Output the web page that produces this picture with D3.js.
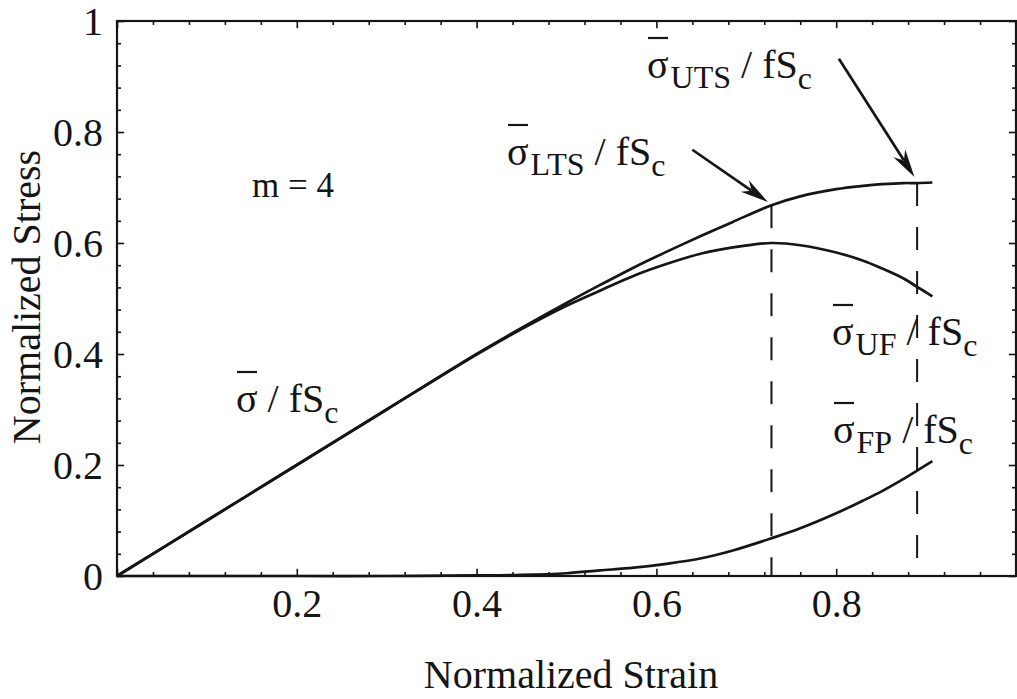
<!DOCTYPE html>
<html><head><meta charset="utf-8">
<script src="https://cdn.jsdelivr.net/npm/d3@7"></script>
<style>
body{margin:0;background:#fff}
svg{display:block}
text{font-family:"Liberation Serif","Times New Roman",serif;fill:#151515;white-space:pre}
</style>
</head><body>
<svg id="c" width="1017" height="699"></svg>
<script>
// ---- data ----
const strain      = [0, 0.1, 0.2, 0.3, 0.4, 0.45, 0.5, 0.537, 0.575, 0.611, 0.65, 0.685, 0.728, 0.76, 0.8, 0.83, 0.851, 0.875, 0.89, 0.907];
const sigmaTotal  = [0, 0.1, 0.2, 0.3, 0.4, 0.447, 0.492, 0.524, 0.556, 0.584, 0.613, 0.638, 0.668, 0.684, 0.697, 0.703, 0.706, 0.708, 0.708, 0.709];
const sigmaUF     = [0, 0.1, 0.2, 0.3, 0.399, 0.445, 0.487, 0.514, 0.541, 0.562, 0.581, 0.592, 0.6, 0.596, 0.583, 0.568, 0.554, 0.536, 0.521, 0.504];
const sigmaFP     = [0, 0, 0, 0, 0.001, 0.002, 0.005, 0.01, 0.015, 0.022, 0.032, 0.046, 0.068, 0.086, 0.113, 0.136, 0.153, 0.175, 0.19, 0.207];
const markStrain  = [0.728, 0.89];      // LTS, UTS strains (dashed lines)
const markStress  = [0.668, 0.708];
const xTickLabels = ["0.2", "0.4", "0.6", "0.8"];
const xTickValues = [0.2, 0.4, 0.6, 0.8];
const yTickLabels = ["0", "0.2", "0.4", "0.6", "0.8", "1"];
const yTickValues = [0, 0.2, 0.4, 0.6, 0.8, 1];
const xTitle = "Normalized Strain";
const yTitle = "Normalized Stress";

// ---- layout ----
const L = 117, R = 1016, T = 21, B = 576;
const svg = d3.select("#c");
const x = d3.scaleLinear().domain([0, 1]).range([L, R]);
const y = d3.scaleLinear().domain([0, 1]).range([B, T]);
const ink = "#151515";

const minor = d3.range(0, 1.0001, 0.04);
const isMajor = d => Math.abs(Math.round(d * 5) - d * 5) < 1e-6;

// ticks (inward) on four sides
function ticks(axisFn, scale, transform, horiz) {
  const g = svg.append("g").attr("transform", transform)
    .call(axisFn(scale).tickValues(minor).tickSize(-4).tickFormat(""));
  g.select(".domain").remove();
  g.selectAll(".tick line").attr("stroke", ink).attr("stroke-width", 1.6);
  g.selectAll(".tick line").filter(isMajor).each(function() {
    const s = d3.select(this);
    if (horiz) s.attr("y2", +s.attr("y2") * 1.8); else s.attr("x2", +s.attr("x2") * 1.8);
  });
  return g;
}
ticks(d3.axisBottom, x, `translate(0,${B})`, true);
ticks(d3.axisTop, x, `translate(0,${T})`, true);
ticks(d3.axisLeft, y, `translate(${L},0)`, false);
ticks(d3.axisRight, y, `translate(${R},0)`, false);

// frame
svg.append("rect").attr("x", L).attr("y", T).attr("width", R - L).attr("height", B - T)
  .attr("fill", "none").attr("stroke", ink).attr("stroke-width", 2.2);

// tick labels
const xl = svg.append("g").attr("transform", `translate(0,${B})`)
  .call(d3.axisBottom(x).tickValues(xTickValues).tickSize(0).tickPadding(0)
    .tickFormat((d, i) => xTickLabels[i]));
xl.select(".domain").remove();
xl.selectAll("text").attr("font-size", 40).attr("dy", 0).attr("y", 41)
  .attr("font-family", "Liberation Serif").attr("fill", ink);

const yl = svg.append("g").attr("transform", `translate(${L},0)`)
  .call(d3.axisLeft(y).tickValues(yTickValues).tickSize(0).tickPadding(0)
    .tickFormat((d, i) => yTickLabels[i]));
yl.select(".domain").remove();
yl.selectAll("text").attr("font-size", 40).attr("x", -14).attr("dy", "0.34em")
  .attr("font-family", "Liberation Serif").attr("fill", ink);

// titles
svg.append("text").attr("x", 571).attr("y", 688).attr("text-anchor", "middle")
  .attr("font-size", 40).text(xTitle);
svg.append("text").attr("transform", "translate(40,297) rotate(-90)").attr("text-anchor", "middle")
  .attr("font-size", 40).text(yTitle);

// curves
const line = d3.line().curve(d3.curveCatmullRom.alpha(0.5)).x(d => x(d[0])).y(d => y(d[1]));
const series = [sigmaTotal, sigmaUF, sigmaFP];
svg.append("g").selectAll("path").data(series).join("path")
  .attr("d", s => line(strain.map((v, i) => [v, s[i]])))
  .attr("fill", "none").attr("stroke", ink).attr("stroke-width", 2.7).attr("stroke-linejoin", "round");

// dashed drop lines
svg.append("g").selectAll("line").data(markStrain).join("line")
  .attr("x1", d => x(d)).attr("x2", d => x(d))
  .attr("y1", (d, i) => y(markStress[i])).attr("y2", y(0))
  .attr("stroke", ink).attr("stroke-width", 2).attr("stroke-dasharray", "23,21");

// arrows
const arrows = [
  {from: [0.640, 0.768], to: [0.724, 0.674]},
  {from: [0.803, 0.932], to: [0.887, 0.719]}
];
arrows.forEach(a => {
  const x1 = x(a.from[0]), y1 = y(a.from[1]), x2 = x(a.to[0]), y2 = y(a.to[1]);
  const ang = Math.atan2(y2 - y1, x2 - x1);
  const hl = 28, hw = 7;
  const bx = x2 - hl * Math.cos(ang), by = y2 - hl * Math.sin(ang);
  svg.append("line").attr("x1", x1).attr("y1", y1).attr("x2", bx + 8*Math.cos(ang)).attr("y2", by + 8*Math.sin(ang))
    .attr("stroke", ink).attr("stroke-width", 2.7);
  const px = -Math.sin(ang) * hw, py = Math.cos(ang) * hw;
  svg.append("path")
    .attr("d", `M${x2},${y2}L${bx + px},${by + py}L${bx + 0.3*hl*Math.cos(ang)},${by + 0.3*hl*Math.sin(ang)}L${bx - px},${by - py}Z`)
    .attr("fill", ink);
});

// annotations
function sigmaLabel(px, py, sub) {
  const t = svg.append("text").attr("x", px).attr("y", py).attr("font-size", 40);
  t.append("tspan").text("σ");
  if (sub) {
    t.append("tspan").attr("font-size", 32).attr("dy", 10).attr("dx", 2).text(sub);
    t.append("tspan").attr("dy", -10).text(" / fS");
  } else {
    t.append("tspan").text(" / fS");
  }
  t.append("tspan").attr("font-size", 32).attr("dy", 11).text("c");
  svg.append("line").attr("x1", px + 1).attr("x2", px + 21).attr("y1", py - 40).attr("y2", py - 40)
    .attr("stroke", ink).attr("stroke-width", 2.2);
}
sigmaLabel(236, 412, "");
sigmaLabel(507, 165, "LTS");
sigmaLabel(647, 78, "UTS");
sigmaLabel(832, 345, "UF");
sigmaLabel(833, 443, "FP");

svg.append("text").attr("x", 252).attr("y", 197).attr("font-size", 35).text("m = 4");
</script>
</body></html>
